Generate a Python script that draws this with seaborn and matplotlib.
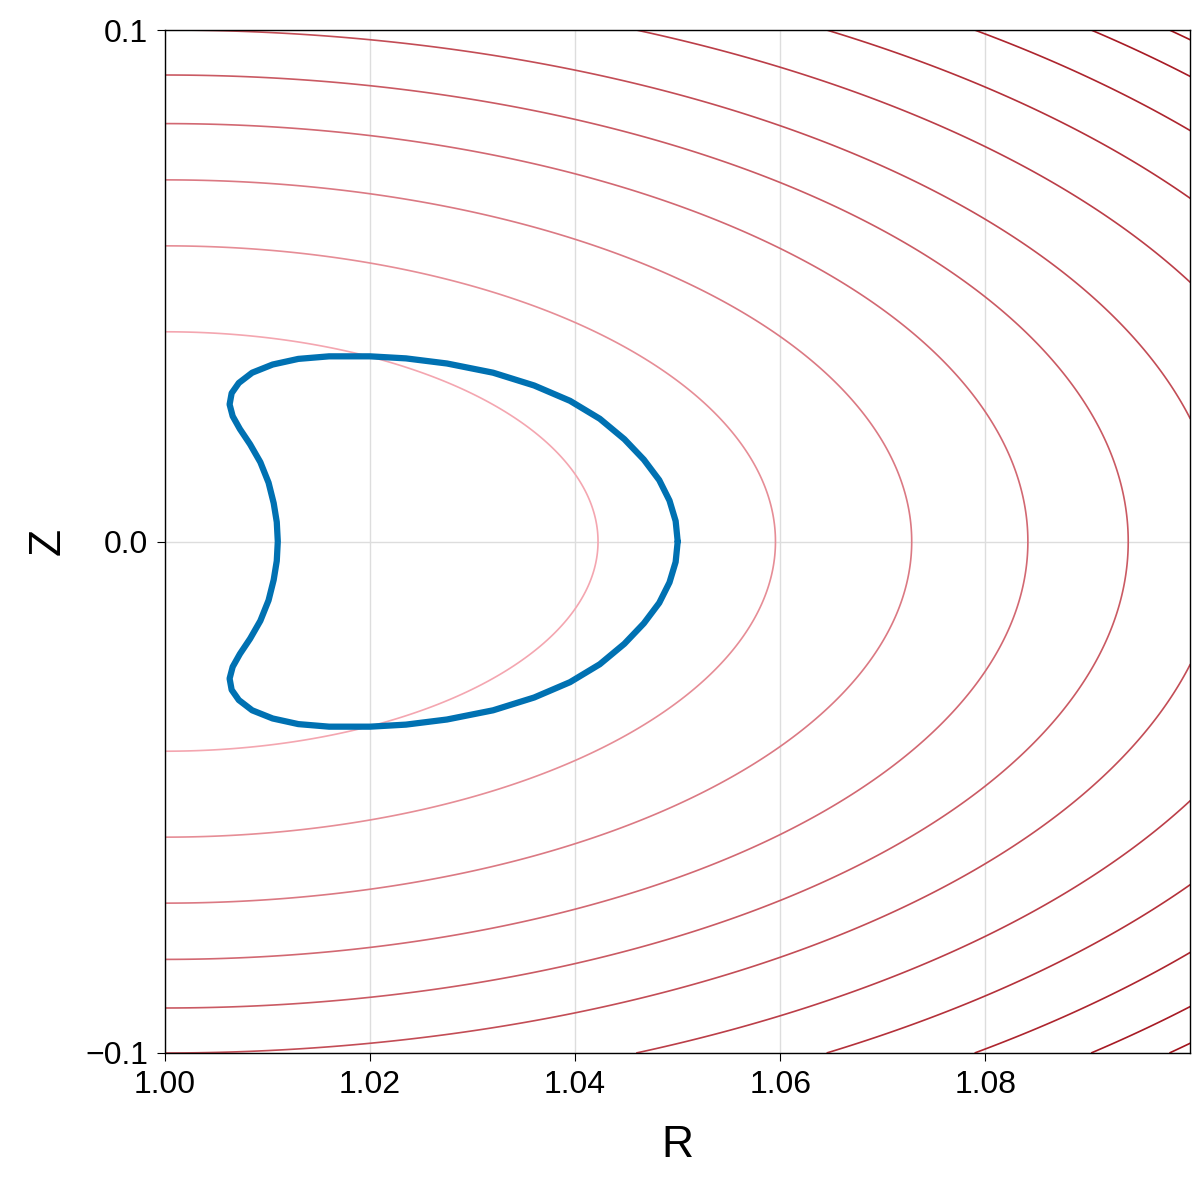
import numpy as np
import matplotlib
matplotlib.use('Agg')
import matplotlib.pyplot as plt
import seaborn as sb
import pandas as pd

# contour level radii (Z intercept at R=1)
LEVELS = [0.041, 0.0578, 0.0707, 0.0817, 0.0912, 0.1, 0.1095, 0.118, 0.126, 0.133, 0.138]
R_STRETCH = 1.03

# upper half of the blue boundary, mirrored below
BOUND_R = [1.0500, 1.0498, 1.0492, 1.0482, 1.0467, 1.0448, 1.0424, 1.0395, 1.0360,
           1.0320, 1.0275, 1.0235, 1.0200, 1.0160, 1.0130, 1.0105, 1.0085, 1.0072,
           1.0065, 1.0063, 1.0066, 1.0073, 1.0083, 1.0093, 1.0101, 1.0106, 1.0109, 1.0110]
BOUND_Z = [0.0000, 0.0040, 0.0080, 0.0120, 0.0160, 0.0200, 0.0240, 0.0275, 0.0305,
           0.0330, 0.0348, 0.0358, 0.0362, 0.0362, 0.0357, 0.0346, 0.0330, 0.0310,
           0.0290, 0.0268, 0.0245, 0.0220, 0.0190, 0.0155, 0.0115, 0.0075, 0.0038, 0.0000]

sb.set_style('white')
plt.rcParams['font.family'] = ['Liberation Sans', 'DejaVu Sans']

fig = plt.figure(figsize=(12, 12), dpi=100)
ax = fig.add_axes([0.1375, 0.1225, 0.8545, 0.8525])

r = np.linspace(1.0, 1.1, 400)
z = np.linspace(-0.1, 0.1, 400)
RR, ZZ = np.meshgrid(r, z)
psi = np.sqrt(((RR - 1.0) / R_STRETCH) ** 2 + ZZ ** 2)
cmap = matplotlib.colors.LinearSegmentedColormap.from_list('rd', ['#f4a6b0', '#a3131c'])
ax.contour(RR, ZZ, psi, levels=LEVELS, cmap=cmap, linewidths=1.2)

up = list(zip(BOUND_R, BOUND_Z))
loop = up + [(rv, -zv) for rv, zv in reversed(up)]
df = pd.DataFrame(loop, columns=['R', 'Z'])
sb.lineplot(data=df, x='R', y='Z', sort=False, estimator=None, color='#0071b2',
            linewidth=4.5, ax=ax, solid_joinstyle='round')

ax.set_xlim(1.0, 1.1)
ax.set_ylim(-0.1, 0.1)
ax.set_xticks([1.00, 1.02, 1.04, 1.06, 1.08])
ax.set_xticklabels(['1.00', '1.02', '1.04', '1.06', '1.08'])
ax.set_yticks([-0.1, 0.0, 0.1])
ax.set_yticklabels(['\u22120.1', '0.0', '0.1'])
ax.grid(True, color='#dddddd', linewidth=1)
ax.set_axisbelow(True)
ax.tick_params(labelsize=23, length=6, left=True, bottom=True, direction='out',
               colors='black', pad=6)
ax.set_xlabel('R', fontsize=32, color='black', labelpad=18)
ax.set_ylabel('Z', fontsize=32, color='black', labelpad=12)
for s in ax.spines.values():
    s.set_color('black')
    s.set_linewidth(1)

fig.savefig('out.png')
